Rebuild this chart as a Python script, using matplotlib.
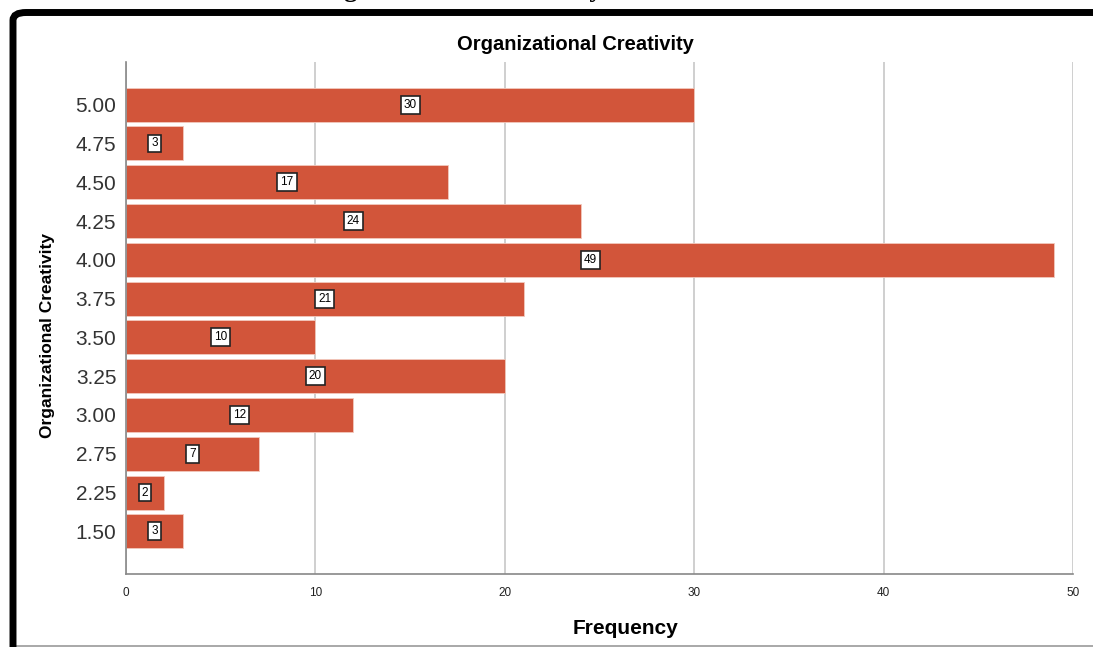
import matplotlib.pyplot as plt
from matplotlib.patches import FancyBboxPatch
from matplotlib.lines import Line2D

categories = ["1.50", "2.25", "2.75", "3.00", "3.25", "3.50", "3.75", "4.00", "4.25", "4.50", "4.75", "5.00"]
frequency = [3, 2, 7, 12, 20, 10, 21, 49, 24, 17, 3, 30]
x_ticks = [0, 10, 20, 30, 40, 50]

W, H = 1093, 647
fig = plt.figure(figsize=(W / 100, H / 100), dpi=100)
fig.patch.set_facecolor("white")

# frame around the chart (cut off on the right and bottom)
frame = FancyBboxPatch((13 / W, -0.05), 1.2, (H - 12.5) / H + 0.05,
                       boxstyle="round,pad=0,rounding_size=0.012",
                       transform=fig.transFigure, facecolor="none",
                       edgecolor="black", linewidth=5, zorder=5)
fig.patches.append(frame)
fig.lines.append(Line2D([16 / W, 1], [1.5 / H, 1.5 / H], transform=fig.transFigure,
                        color="#9a9a9a", linewidth=1.2))

# caption of the page above, mostly cut off
fig.text(312 / W, 1 + 3 / H, "Organizational Creativity", family="Liberation Serif",
         fontweight="bold", fontsize=19, ha="left", va="baseline", color="black")

ax = fig.add_axes([126 / W, 1 - 574 / H, (1073 - 126) / W, (574 - 62) / H])
ypos = list(range(len(categories)))
bars = ax.barh(ypos, frequency, height=0.875, color="#d2553a",
               edgecolor="#f2c9bd", linewidth=0.6, zorder=3)

for b, v in zip(bars, frequency):
    ax.text(v / 2, b.get_y() + b.get_height() / 2, str(v), ha="center", va="center",
            fontsize=8.5, family="Liberation Sans", color="black", zorder=4,
            bbox=dict(boxstyle="square,pad=0.25", facecolor="white",
                      edgecolor="#222222", linewidth=1.2))

ax.set_xlim(0, 50)
ax.set_ylim(-1.1, len(categories) - 1 + 1.1)
ax.set_xticks(x_ticks)
ax.set_xticklabels([str(t) for t in x_ticks], fontsize=8.5, family="Liberation Sans", color="#222222")
ax.set_yticks(ypos)
ax.set_yticklabels(categories, fontsize=15, family="Liberation Sans", color="#333333")
ax.tick_params(axis="both", length=0)
ax.tick_params(axis="x", pad=9)
ax.tick_params(axis="y", pad=7)
ax.grid(axis="x", color="#cccccc", linewidth=1.3, zorder=0)
for side in ["top", "right"]:
    ax.spines[side].set_visible(False)
for side in ["left", "bottom"]:
    ax.spines[side].set_color("#888888")
    ax.spines[side].set_linewidth(1.2)
    ax.spines[side].set_zorder(4)

fig.text(575 / W, 1 - 45 / H, "Organizational Creativity", fontsize=14.5, fontweight="bold",
         family="Liberation Sans", ha="center", va="center")
fig.text(625 / W, 1 - 628 / H, "Frequency", fontsize=15, fontweight="bold",
         family="Liberation Sans", ha="center", va="center")
fig.text(48 / W, 1 - 335 / H, "Organizational Creativity", fontsize=12.5, fontweight="bold",
         family="Liberation Sans", ha="center", va="center", rotation=90)

fig.savefig("out.png", dpi=100)
